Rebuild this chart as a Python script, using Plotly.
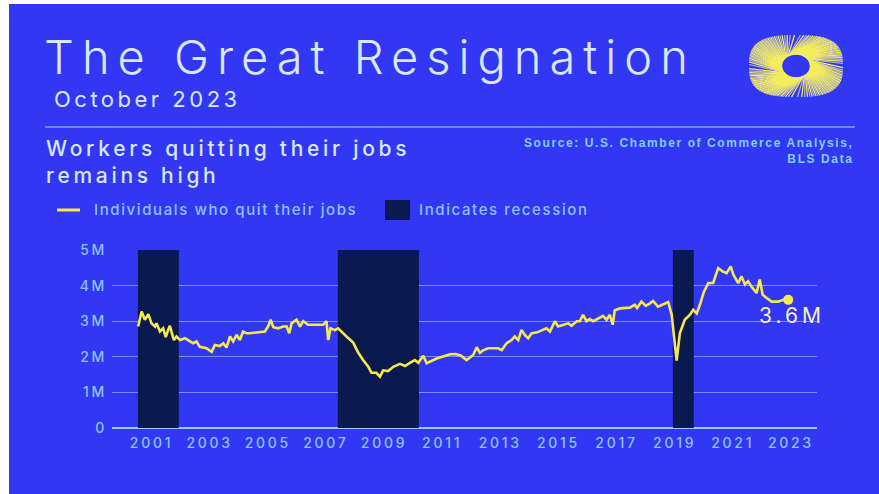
import numpy as np
import plotly.graph_objects as go

# ---------------- data ----------------
# Quits (millions), x in decimal years on the chart's time axis
years = [
    2000.54, 2000.66, 2000.77, 2000.89, 2001.00, 2001.12, 2001.17, 2001.29, 2001.40, 2001.49,
    2001.57, 2001.63, 2001.77, 2001.86, 2001.98, 2002.15, 2002.26, 2002.43, 2002.55, 2002.66,
    2002.89, 2003.07, 2003.18, 2003.35, 2003.47, 2003.58, 2003.70, 2003.81, 2003.93, 2004.04,
    2004.15, 2004.27, 2004.38, 2004.62, 2004.90, 2005.01, 2005.10, 2005.19, 2005.36, 2005.53,
    2005.65, 2005.74, 2005.82, 2005.99, 2006.11, 2006.22, 2006.39, 2006.56, 2006.91, 2007.02,
    2007.08, 2007.16, 2007.31, 2007.42, 2007.54, 2007.71, 2007.94, 2008.11, 2008.28, 2008.46,
    2008.57, 2008.74, 2008.86, 2008.97, 2009.14, 2009.32, 2009.55, 2009.72, 2009.89, 2010.06,
    2010.18, 2010.35, 2010.47, 2010.64, 2010.81, 2010.92, 2011.27, 2011.47, 2011.65, 2011.84,
    2012.07, 2012.19, 2012.30, 2012.41, 2012.58, 2012.93, 2013.05, 2013.22, 2013.39, 2013.50,
    2013.62, 2013.73, 2013.85, 2013.96, 2014.08, 2014.25, 2014.42, 2014.59, 2014.71, 2014.88,
    2014.99, 2015.17, 2015.34, 2015.45, 2015.63, 2015.74, 2015.85, 2015.97, 2016.08, 2016.20,
    2016.37, 2016.54, 2016.66, 2016.77, 2016.87, 2016.94, 2017.12, 2017.46, 2017.63, 2017.71,
    2017.86, 2018.01, 2018.15, 2018.26, 2018.43, 2018.59, 2018.78, 2018.90, 2019.07, 2019.18,
    2019.35, 2019.53, 2019.64, 2019.76, 2019.87, 2020.01, 2020.16, 2020.33, 2020.50, 2020.65,
    2020.79, 2020.93, 2021.02, 2021.19, 2021.30, 2021.42, 2021.53, 2021.65, 2021.82, 2021.93,
    2022.03, 2022.17, 2022.34, 2022.56, 2022.74, 2022.91,
]
quits_m = [
    2.85, 3.27, 3.04, 3.20, 2.94, 2.85, 2.94, 2.71, 2.80, 2.55,
    2.75, 2.87, 2.47, 2.57, 2.47, 2.52, 2.47, 2.38, 2.43, 2.28,
    2.24, 2.14, 2.33, 2.30, 2.38, 2.26, 2.57, 2.43, 2.62, 2.47,
    2.71, 2.66, 2.66, 2.69, 2.71, 2.85, 3.04, 2.83, 2.80, 2.85,
    2.85, 2.66, 2.94, 3.04, 2.85, 3.00, 2.90, 2.90, 2.90, 3.00,
    2.47, 2.80, 2.75, 2.80, 2.70, 2.57, 2.40, 2.12, 1.91, 1.72,
    1.55, 1.55, 1.44, 1.62, 1.60, 1.72, 1.80, 1.74, 1.83, 1.91,
    1.83, 2.03, 1.82, 1.89, 1.95, 1.98, 2.07, 2.08, 2.03, 1.91,
    2.05, 2.27, 2.11, 2.18, 2.24, 2.24, 2.19, 2.38, 2.47, 2.57,
    2.47, 2.75, 2.61, 2.52, 2.66, 2.68, 2.73, 2.80, 2.71, 3.00,
    2.85, 2.90, 2.94, 2.87, 3.00, 3.00, 3.18, 3.00, 3.06, 3.00,
    3.08, 3.15, 3.04, 3.18, 2.90, 3.30, 3.36, 3.38, 3.46, 3.37,
    3.55, 3.43, 3.50, 3.57, 3.41, 3.48, 3.54, 3.18, 1.89, 2.66,
    3.04, 3.18, 3.32, 3.22, 3.46, 3.83, 4.07, 4.08, 4.49, 4.40,
    4.35, 4.54, 4.31, 4.07, 4.26, 4.03, 4.12, 3.97, 3.79, 4.17,
    3.74, 3.65, 3.55, 3.55, 3.60, 3.60,
]

recession_start = [2000.53, 2007.41, 2018.94]
recession_end = [2001.94, 2010.20, 2019.66]

tick_years = list(range(2001, 2024, 2))
tick_labels = [str(y) for y in tick_years]
y_tick_vals = [0, 1, 2, 3, 4, 5]
y_tick_labels = ["0", "1M", "2M", "3M", "4M", "5M"]

# ---------------- styling ----------------
W, H = 879, 494
ML, MR, MT, MB = 112, 62, 250, 66
PW, PH = W - ML - MR, H - MT - MB

BG = "#3237F4"
NAVY = "#0B1A4E"
YELLOW = "#F6E94F"
PALE = "#D9E8FF"
TICK = "#8CC4FF"
GRID = "#7393FB"
FONT = "Inter"


def px_x(px):
    return (px - ML) / PW


def px_y(py):
    return (MT + PH - py) / PH


def spaced(text, ls):
    return f'<span style="letter-spacing:{ls}px">{text}</span>'


fig = go.Figure()

fig.add_trace(go.Scatter(
    x=years, y=quits_m, mode="lines",
    line=dict(color=YELLOW, width=2.6),
    showlegend=False, hoverinfo="skip",
))
fig.add_trace(go.Scatter(
    x=[years[-1]], y=[quits_m[-1]], mode="markers",
    marker=dict(color=YELLOW, size=10),
    showlegend=False, hoverinfo="skip",
))

# recession bands
for s, e in zip(recession_start, recession_end):
    fig.add_shape(type="rect", xref="x", yref="y", x0=s, x1=e, y0=0, y1=5,
                  fillcolor=NAVY, line_width=0, layer="between")

shapes = []
# white frame strips on the left and top
shapes.append(dict(type="rect", xref="paper", yref="paper",
                   x0=px_x(0), x1=px_x(9), y0=px_y(H), y1=px_y(0),
                   fillcolor="white", line_width=0, layer="below"))
shapes.append(dict(type="rect", xref="paper", yref="paper",
                   x0=px_x(0), x1=px_x(W), y0=px_y(4), y1=px_y(0),
                   fillcolor="white", line_width=0, layer="below"))
# separator rule under the header
shapes.append(dict(type="line", xref="paper", yref="paper",
                   x0=px_x(45), x1=px_x(855), y0=px_y(127), y1=px_y(127),
                   line=dict(color="#78AEFF", width=1.5)))
# legend swatches
shapes.append(dict(type="line", xref="paper", yref="paper",
                   x0=px_x(57), x1=px_x(80), y0=px_y(210), y1=px_y(210),
                   line=dict(color=YELLOW, width=3)))
shapes.append(dict(type="rect", xref="paper", yref="paper",
                   x0=px_x(385), x1=px_x(410), y0=px_y(220), y1=px_y(200),
                   fillcolor=NAVY, line_width=0))

# sunburst logo: twisted rays between an inner ellipse and a rounded square
cx, cy = 796, 66
n_rays = 150
paths = {"y": [], "g": []}
for i in range(n_rays):
    th = 2 * np.pi * i / n_rays
    x0 = cx + 14 * np.cos(th)
    y0 = cy + 11.5 * np.sin(th)
    th2 = th + 0.6
    c, s = np.cos(th2), np.sin(th2)
    x1 = cx + 47 * np.sign(c) * abs(c) ** 0.7
    y1 = cy + 31 * np.sign(s) * abs(s) ** 0.7
    key = "y" if i % 2 == 0 else "g"
    paths[key].append(f"M{px_x(x0):.5f},{px_y(y0):.5f} L{px_x(x1):.5f},{px_y(y1):.5f}")
shapes.append(dict(type="path", xref="paper", yref="paper", path=" ".join(paths["g"]),
                   line=dict(color="#B8B8CC", width=1.2)))
shapes.append(dict(type="path", xref="paper", yref="paper", path=" ".join(paths["y"]),
                   line=dict(color="#F3EC5C", width=1.3)))
shapes.append(dict(type="circle", xref="paper", yref="paper",
                   x0=px_x(cx - 13), x1=px_x(cx + 13), y0=px_y(cy + 11), y1=px_y(cy - 11),
                   fillcolor=BG, line_width=0))

for sh in shapes:
    fig.add_shape(**sh)


def note(text, px, py, size, ls, color=PALE, xanchor="left", weight=400, family=FONT,
         align="left"):
    lines = "<br>".join(spaced(t, ls) for t in text.split("\n"))
    fig.add_annotation(text=lines, xref="paper", yref="paper", x=px_x(px), y=px_y(py),
                       xanchor=xanchor, yanchor="middle", showarrow=False, align=align,
                       font=dict(family=family, size=size, color=color, weight=weight))


note("The Great Resignation", 42, 57, 47, 8, weight=300)
note("October 2023", 52, 99, 22, 3.5)
note("Workers quitting their jobs\nremains high", 44, 162, 21, 3.7, weight=500)
note("Source: U.S. Chamber of Commerce Analysis,\nBLS Data", 856, 151, 12, 1.6,
     color="#86CCFF", xanchor="right", weight=700, family="Liberation Sans", align="right")
note("Individuals who quit their jobs", 92, 210, 15, 1.6, color=TICK, weight=500)
note("Indicates recession", 417, 210, 15, 1.6, color=TICK, weight=500)

fig.add_annotation(x=years[-1], y=quits_m[-1], xref="x", yref="y",
                   text=spaced(f"{quits_m[-1]:.1f}M", 4), showarrow=False,
                   xanchor="center", yanchor="middle", xshift=4, yshift=-16,
                   font=dict(family=FONT, size=21, color="#F4F0B0"))

fig.update_layout(
    width=W, height=H,
    margin=dict(l=ML, r=MR, t=MT, b=MB, pad=0),
    paper_bgcolor=BG, plot_bgcolor=BG,
    showlegend=False,
    xaxis=dict(range=[1999.64, 2023.90], tickvals=tick_years,
               ticktext=[spaced(t, 2.7) for t in tick_labels],
               showgrid=False, zeroline=False, showline=False, ticks="",
               ticklabelstandoff=5,
               tickfont=dict(family=FONT, size=14, color=TICK, weight=500), fixedrange=True),
    yaxis=dict(range=[0, 5], tickvals=y_tick_vals,
               ticktext=[spaced(t, 2.7) for t in y_tick_labels],
               showgrid=True, gridcolor=GRID, gridwidth=1,
               zeroline=True, zerolinecolor="#9CC6FF", zerolinewidth=2,
               showline=False, ticks="", ticklabelstandoff=4,
               tickfont=dict(family=FONT, size=14, color=TICK, weight=500), fixedrange=True),
)

fig.write_html("out.html")
